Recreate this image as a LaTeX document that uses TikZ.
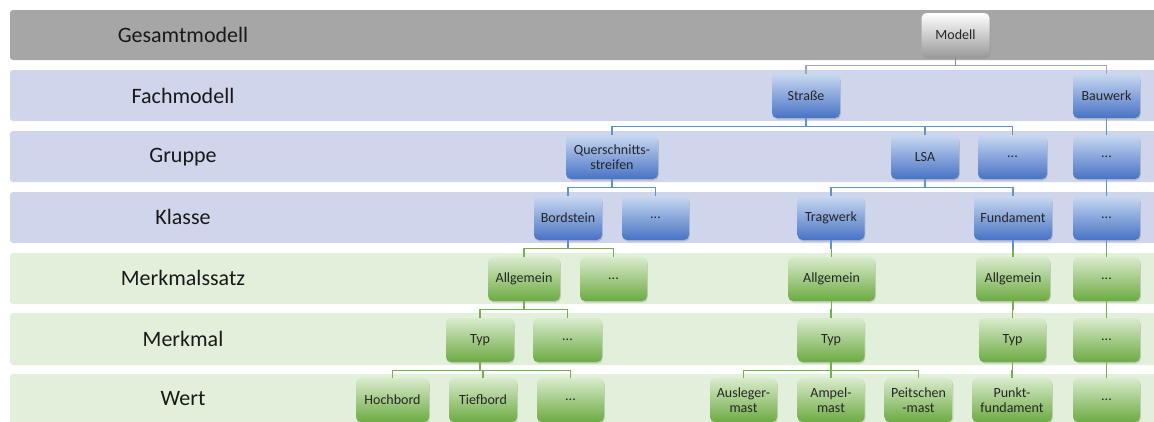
\documentclass[tikz,border=0pt]{standalone}
\usepackage{fontspec}
\setmainfont{Carlito}
\usetikzlibrary{shadows}
\definecolor{bandgray}{HTML}{A6A6A6}
\definecolor{bandblue}{HTML}{CFD5EA}
\definecolor{bandgreen}{HTML}{E2EFDA}
\definecolor{bluetop}{HTML}{C8D8F1}
\definecolor{bluebot}{HTML}{4873C5}
\definecolor{greentop}{HTML}{D9EBCC}
\definecolor{greenbot}{HTML}{6CAB42}
\definecolor{graytop}{HTML}{FFFFFF}
\definecolor{graybot}{HTML}{9A9A9A}
\definecolor{lineblue}{HTML}{5F93CC}
\definecolor{linegreen}{HTML}{74B04B}
\definecolor{linegray}{HTML}{8C8C8C}
\definecolor{linemodel}{HTML}{93A8CB}
\newcommand\conn[4]{%
  \draw[#3] (#1.south) -- ++(0,8.5) coordinate (cj);
  \draw[#4] (cj) -| (#2.north);
}
\begin{document}
\begin{tikzpicture}[x=1pt,y=-1pt,
  box/.style={rounded corners=5pt, minimum height=44pt, minimum width=67pt, inner sep=0pt, align=center,
    font=\fontsize{14}{15}\selectfont, text=black!85,
    drop shadow={opacity=0.3, shadow xshift=0.8pt, shadow yshift=-1.5pt}},
  bbox/.style={box, top color=bluetop, bottom color=bluebot},
  gbox/.style={box, top color=greentop, bottom color=greenbot},
  mbox/.style={box, top color=graytop, bottom color=graybot},
  lbl/.style={font=\fontsize{22}{26}\selectfont, text=black!90},
  band/.style={rounded corners=3pt},
  bl/.style={draw=lineblue, line width=1.4pt},
  gl/.style={draw=linegreen, line width=1.4pt},
  ml/.style={draw=linemodel, line width=1.4pt},
  kl/.style={draw=linegray, line width=1.4pt}]
\useasboundingbox (0,0) rectangle (1154,421);
\clip (0,0) rectangle (1154,421);
% bands
\fill[bandgray, band] (10,10) rectangle (1175,60);
\fill[bandblue, band] (10,70) rectangle (1175,121);
\fill[bandblue, band] (10,131) rectangle (1175,182);
\fill[bandblue, band] (10,192) rectangle (1175,243);
\fill[bandgreen, band] (10,253) rectangle (1175,304);
\fill[bandgreen, band] (10,313) rectangle (1175,365);
\fill[bandgreen, band] (10,374) rectangle (1175,450);
% labels
\node[lbl] (l0) at (183,35) {Gesamtmodell};
\node[lbl] (l1) at (183,96) {Fachmodell};
\node[lbl] (l2) at (183,157) {Gruppe};
\node[lbl] (l3) at (183,217) {Klasse};
\node[lbl] (l4) at (183,278) {Merkmalssatz};
\node[lbl] (l5) at (183,339) {Merkmal};
\node[lbl] (l6) at (183,399) {Wert};
% nodes
\node[mbox, minimum width=68pt] (modell) at (955.5,35) {Modell};
\node[bbox, minimum width=68pt] (strasse) at (806,96) {Straße};
\node[bbox] (bauwerk) at (1106.5,96) {Bauwerk};
\node[bbox, minimum width=92pt] (quer) at (612,157) {Querschnitts-\\streifen};
\node[bbox, minimum width=68pt] (lsa) at (925,157) {LSA};
\node[bbox, minimum width=69pt] (gdots) at (1012.5,157) {...};
\node[bbox] (gdotsb) at (1106.5,157) {...};
\node[bbox, minimum width=68pt] (bord) at (568,218) {Bordstein};
\node[bbox] (kdots) at (655.5,218) {...};
\node[bbox] (trag) at (831,218) {Tragwerk};
\node[bbox, minimum width=78pt] (fund) at (1013,218) {Fundament};
\node[bbox] (kdotsb) at (1106.5,218) {...};
\node[gbox, minimum width=72pt] (allga) at (524,279) {Allgemein};
\node[gbox] (sdots) at (613.5,279) {...};
\node[gbox, minimum width=87pt] (allgb) at (831.5,279) {Allgemein};
\node[gbox, minimum width=74pt] (allgc) at (1013,279) {Allgemein};
\node[gbox] (sdotsb) at (1106.5,279) {...};
\node[gbox, minimum width=68pt] (typa) at (480,340) {Typ};
\node[gbox, minimum width=69pt] (mdots) at (567.5,340) {...};
\node[gbox] (typb) at (831,340) {Typ};
\node[gbox] (typc) at (1012.5,340) {Typ};
\node[gbox] (mdotsb) at (1106.5,340) {...};
\node[gbox, minimum width=73pt] (hoch) at (392.5,400) {Hochbord};
\node[gbox, minimum width=68pt] (tief) at (483,400) {Tiefbord};
\node[gbox] (wdots) at (570.5,400) {...};
\node[gbox] (ausl) at (743.5,400) {Ausleger-\\mast};
\node[gbox] (ampel) at (831,400) {Ampel-\\mast};
\node[gbox, minimum width=68pt] (peit) at (918.5,400) {Peitschen\\-mast};
\node[gbox, minimum width=80pt] (punkt) at (1012,400) {Punkt-\\fundament};
\node[gbox] (wdotsb) at (1106.5,400) {...};
% connectors
\conn{modell}{strasse}{kl}{ml}
\conn{modell}{bauwerk}{kl}{ml}
\conn{strasse}{quer}{bl}{bl}
\conn{strasse}{lsa}{bl}{bl}
\conn{strasse}{gdots}{bl}{bl}
\conn{bauwerk}{gdotsb}{bl}{bl}
\conn{quer}{bord}{bl}{bl}
\conn{quer}{kdots}{bl}{bl}
\conn{lsa}{trag}{bl}{bl}
\conn{lsa}{fund}{bl}{bl}
\conn{gdotsb}{kdotsb}{bl}{bl}
\conn{bord}{allga}{bl}{gl}
\conn{bord}{sdots}{bl}{gl}
\conn{trag}{allgb}{bl}{gl}
\conn{fund}{allgc}{bl}{gl}
\conn{kdotsb}{sdotsb}{bl}{gl}
\conn{allga}{typa}{gl}{gl}
\conn{allga}{mdots}{gl}{gl}
\conn{allgb}{typb}{gl}{gl}
\conn{allgc}{typc}{gl}{gl}
\conn{sdotsb}{mdotsb}{gl}{gl}
\conn{typa}{hoch}{gl}{gl}
\conn{typa}{tief}{gl}{gl}
\conn{typa}{wdots}{gl}{gl}
\conn{typb}{ausl}{gl}{gl}
\conn{typb}{ampel}{gl}{gl}
\conn{typb}{peit}{gl}{gl}
\conn{typc}{punkt}{gl}{gl}
\conn{mdotsb}{wdotsb}{gl}{gl}
\end{tikzpicture}
\end{document}
